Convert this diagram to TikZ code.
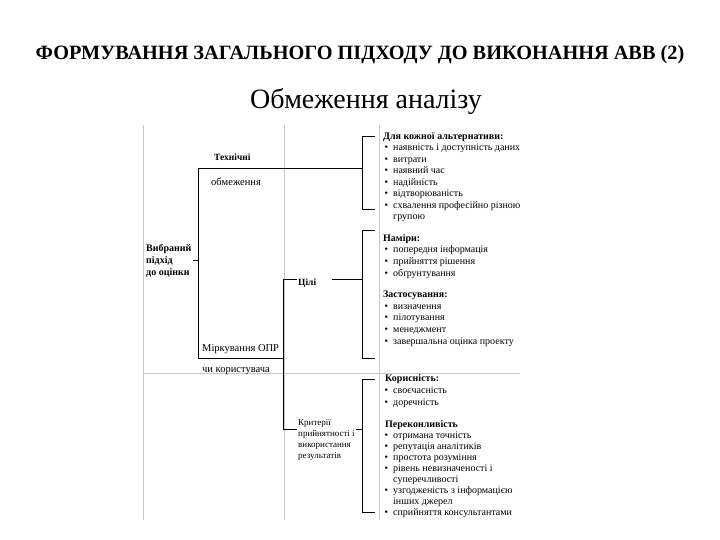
\documentclass[tikz,border=0pt]{standalone}
\usepackage{fontspec}
\setmainfont{Liberation Serif}
\usetikzlibrary{positioning}

\newcommand{\bul}{\hspace*{1.5pt}\makebox[8.5pt][l]{\textbullet}}
\newcommand{\cont}{\hspace*{10pt}}

\begin{document}
\begin{tikzpicture}[x=1pt,y=-1pt,
    grid/.style={draw=black!22, line width=0.8pt},
    conn/.style={draw=black, line width=0.9pt},
    lbl/.style={inner sep=1pt, anchor=base west, align=left},
    blk/.style={inner sep=0pt, anchor=base west, align=left, font=\fontsize{10}{11.55}\selectfont}]
    \useasboundingbox (0,0) rectangle (720,540);

    % headings
    \node[font=\bfseries\fontsize{20.3}{24}\selectfont] (title) at (360,55) {ФОРМУВАННЯ ЗАГАЛЬНОГО ПІДХОДУ ДО ВИКОНАННЯ АВВ (2)};
    \node[font=\fontsize{28}{32}\selectfont] (sub) at (366,102) {Обмеження аналізу};

    % table lines behind the scheme
    \draw[grid] (143,125) -- (143,520);
    \draw[grid] (284,125) -- (284,520);
    \draw[grid] (379,125) -- (379,520);
    \draw[grid] (143,373) -- (520,373);

    % left part (base = baseline of the last line)
    \node[lbl, font=\bfseries\fontsize{10}{12}\selectfont] (vyb) at (145,275) {Вибраний\\підхід\\до оцінки};
    \node[lbl, font=\bfseries\fontsize{9.5}{11}\selectfont] (tekh) at (213,161) {Технічні};
    \node[lbl, font=\fontsize{10.5}{11}\selectfont] (obm) at (210,186) {обмеження};
    \node[lbl, font=\fontsize{10.5}{12}\selectfont] (mirk) at (201,351) {Міркування ОПР};
    \node[lbl, font=\fontsize{10.5}{12}\selectfont] (korys) at (201,372) {чи користувача};
    \node[lbl, font=\bfseries\fontsize{9.5}{11}\selectfont] (tsili) at (297,285) {Цілі};
    \node[lbl, font=\fontsize{9}{10.9}\selectfont] (kryt) at (297,458) {Критерії\\прийнятності і\\використання\\результатів};

    % right part
    \node[blk] (alt) at (383,220) {\textbf{Для кожної альтернативи:}\\
        \bul наявність і доступність даних\\
        \bul витрати\\
        \bul наявний час\\
        \bul надійність\\
        \bul відтворюваність\\
        \bul схвалення професійно різною\\
        \cont групою};
    \node[blk] (nam) at (383,276) {\textbf{Наміри:}\\
        \bul попередня інформація\\
        \bul прийняття рішення\\
        \bul обґрунтування};
    \node[blk] (zast) at (383,344) {\textbf{Застосування:}\\
        \bul визначення\\
        \bul пілотування\\
        \bul менеджмент\\
        \bul завершальна оцінка проекту};
    \node[blk] (kor) at (383,405) {\hspace*{2pt}\textbf{Корисність:}\\
        \bul своєчасність\\
        \bul доречність};
    \node[blk, font=\fontsize{10}{10.9}\selectfont] (perek) at (383,515) {\hspace*{2pt}\textbf{Переконливість}\\
        \bul отримана точність\\
        \bul репутація аналітиків\\
        \bul простота розуміння\\
        \bul рівень невизначеності і\\
        \cont суперечливості\\
        \bul узгодженість з інформацією\\
        \cont інших джерел\\
        \bul сприйняття консультантами};

    % corner points of the scheme
    \coordinate (trT) at (198,168);
    \coordinate (trB) at (198,358);
    \coordinate (mid) at (283,279);
    \coordinate (midB) at (283,429);
    \coordinate (brA1) at (362,136);
    \coordinate (brA2) at (362,209);
    \coordinate (brB1) at (362,230);
    \coordinate (brB2) at (362,358);
    \coordinate (brC1) at (362,379);
    \coordinate (brC2) at (362,512);

    % connectors
    \draw[conn] (vyb.east) -- (vyb.east -| trT);
    \draw[conn] (trT) -- (trT -| brA1);
    \draw[conn] (trT) -- (trB) -- (trB -| mid);
    \draw[conn] (mid) -- (midB);
    \draw[conn] (mid) -- (mid -| tsili.west);
    \draw[conn] ([xshift=15pt]mid -| tsili.east) -- (mid -| brB1);
    \draw[conn] (midB) -- (midB -| kryt.west);
    \draw[conn] (midB -| kryt.east) -- (midB -| brC1);

    % brackets
    \draw[conn] ([xshift=13pt]brA1) -- (brA1) -- (brA2) -- ([xshift=13pt]brA2);
    \draw[conn] ([xshift=13pt]brB1) -- (brB1) -- (brB2) -- ([xshift=13pt]brB2);
    \draw[conn] ([xshift=13pt]brC1) -- (brC1) -- (brC2) -- ([xshift=13pt]brC2);
\end{tikzpicture}
\end{document}
